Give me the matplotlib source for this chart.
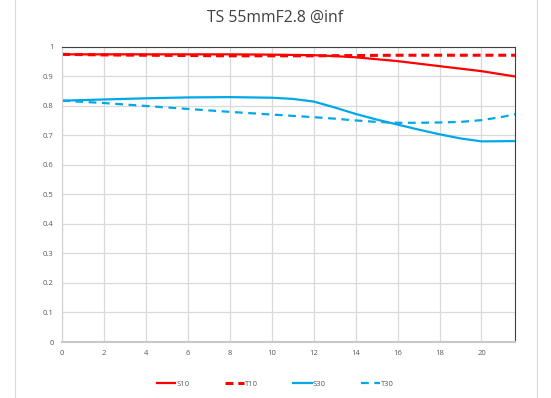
import matplotlib

matplotlib.use("Agg")
import matplotlib.pyplot as plt
from matplotlib.lines import Line2D

plt.rcParams["font.family"] = ["Open Sans", "DejaVu Sans"]

# image height (mm) vs contrast
x_s10 = [0, 2, 4, 6, 8, 10, 12, 13, 14, 16, 18, 20, 21.6]
s10 = [0.975, 0.975, 0.975, 0.975, 0.975, 0.974, 0.972, 0.969, 0.965, 0.952, 0.935, 0.918, 0.900]
x_t10 = [0, 2, 4, 6, 8, 10, 12, 14, 16, 18, 20, 21.6]
t10 = [0.975, 0.973, 0.972, 0.971, 0.970, 0.970, 0.970, 0.971, 0.972, 0.972, 0.972, 0.972]
x_s30 = [0, 2, 4, 6, 8, 10, 11, 12, 13, 14, 15, 16, 17, 18, 19, 20, 21.6]
s30 = [0.818, 0.822, 0.826, 0.829, 0.830, 0.828, 0.824, 0.815, 0.795, 0.773, 0.754, 0.737, 0.720, 0.704, 0.690, 0.680, 0.681]
x_t30 = [0, 2, 4, 6, 8, 10, 12, 13, 14, 15, 16, 17, 18, 19, 20, 21, 21.6]
t30 = [0.818, 0.810, 0.800, 0.790, 0.780, 0.771, 0.762, 0.757, 0.751, 0.746, 0.743, 0.743, 0.744, 0.746, 0.752, 0.763, 0.772]

x_ticks = [0, 2, 4, 6, 8, 10, 12, 14, 16, 18, 20]
y_ticks = [0, 0.1, 0.2, 0.3, 0.4, 0.5, 0.6, 0.7, 0.8, 0.9, 1]
y_labels = ["0", "0.1", "0.2", "0.3", "0.4", "0.5", "0.6", "0.7", "0.8", "0.9", "1"]

red = "#ff0000"
blue = "#00a8e8"

fig = plt.figure(figsize=(5.51, 3.98), dpi=100)
ax = fig.add_axes([0.1125, 0.1407, 0.8222, 0.7413])

ax.plot(x_s10, s10, color=red, lw=1.6, label="S10")
ax.plot(x_t10, t10, color=red, lw=2.2, ls=(0, (2.6, 1.6)), label="T10")
ax.plot(x_s30, s30, color=blue, lw=1.6, label="S30")
ax.plot(x_t30, t30, color=blue, lw=1.6, ls=(0, (3.5, 2.5)), label="T30")

ax.set_xlim(0, 21.6)
ax.set_ylim(0, 1)
ax.set_xticks(x_ticks)
ax.set_xticklabels([str(v) for v in x_ticks])
ax.set_yticks(y_ticks)
ax.set_yticklabels(y_labels)
ax.tick_params(length=0, labelsize=5.5, labelcolor="#595959", pad=6)
ax.grid(True, color="#d9d9d9", lw=0.9)
ax.set_axisbelow(True)

ax.spines["top"].set_color("#404040")
ax.spines["right"].set_color("#404040")
ax.spines["left"].set_color("#d0d0d0")
ax.spines["bottom"].set_color("#c8c8c8")
ax.spines["bottom"].set_linewidth(1.5)

fig.suptitle("TS 55mmF2.8 @inf", y=0.975, fontsize=11.3, color="#404040")

fig.legend(loc="center", bbox_to_anchor=(0.5, 0.035), ncol=4, frameon=False,
           fontsize=5.5, labelcolor="#595959", handlelength=2.4,
           handletextpad=0.2, columnspacing=4.6)

# outer chart frame
for xf in (15 / 551, 537 / 551):
    fig.add_artist(Line2D([xf, xf], [0, 1], color="#d9d9d9", lw=0.8,
                          transform=fig.transFigure))

fig.savefig("out.png", dpi=100)
plt.close(fig)
